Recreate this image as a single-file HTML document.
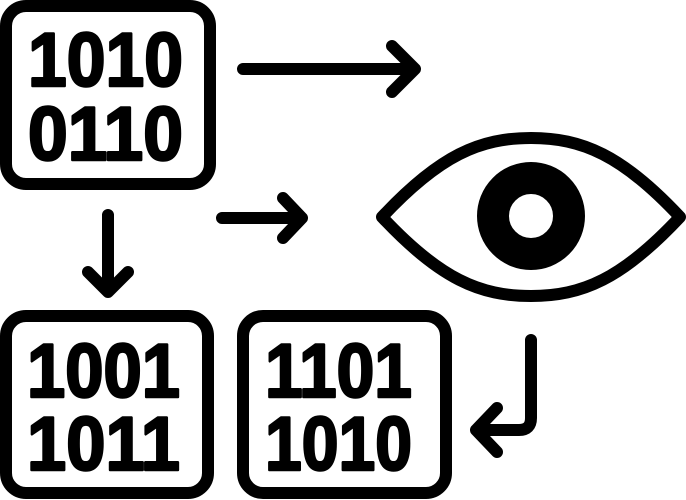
<!DOCTYPE html>
<html><head><style>html,body{margin:0;padding:0;background:#fff;}svg{display:block}</style></head>
<body>
<svg width="686" height="500" viewBox="0 0 686 500" xmlns="http://www.w3.org/2000/svg">
<g fill="none" stroke="#000" stroke-width="12" stroke-linecap="round" stroke-linejoin="round">
<rect x="6" y="6" width="204" height="178" rx="20"/>
<rect x="6" y="316" width="202" height="177" rx="20"/>
<rect x="243" y="316" width="203" height="177" rx="20"/>
<path d="M243 69H415M392 46L415 69L392 92"/>
<path d="M222 218H302M283 198L302 218L283 238"/>
<path d="M108 215V292M88 272L108 292L128 272"/>
<path d="M531 340V418Q531 430 519 430H476M497 408L476 430L497 452"/>
<path d="M382 217C440 155 480 138 531 138C582 138 622 155 680 217C622 279 582 296 531 296C480 296 440 279 382 217Z"/>
</g>
<circle cx="531" cy="216" r="38" fill="none" stroke="#000" stroke-width="32"/>
<g font-family="Liberation Sans, sans-serif" font-weight="bold" font-size="76" fill="#000" stroke="#000" stroke-width="2.5" stroke-linejoin="round">
<text x="28" y="86" textLength="155" lengthAdjust="spacingAndGlyphs">1010</text>
<text x="28" y="160" textLength="155" lengthAdjust="spacingAndGlyphs">0110</text>
<text x="27" y="397" textLength="153" lengthAdjust="spacingAndGlyphs">1001</text>
<text x="27" y="470" textLength="153" lengthAdjust="spacingAndGlyphs">1011</text>
<text x="265" y="397" textLength="147" lengthAdjust="spacingAndGlyphs">1101</text>
<text x="265" y="470" textLength="147" lengthAdjust="spacingAndGlyphs">1010</text>
</g>
</svg>
</body></html>
